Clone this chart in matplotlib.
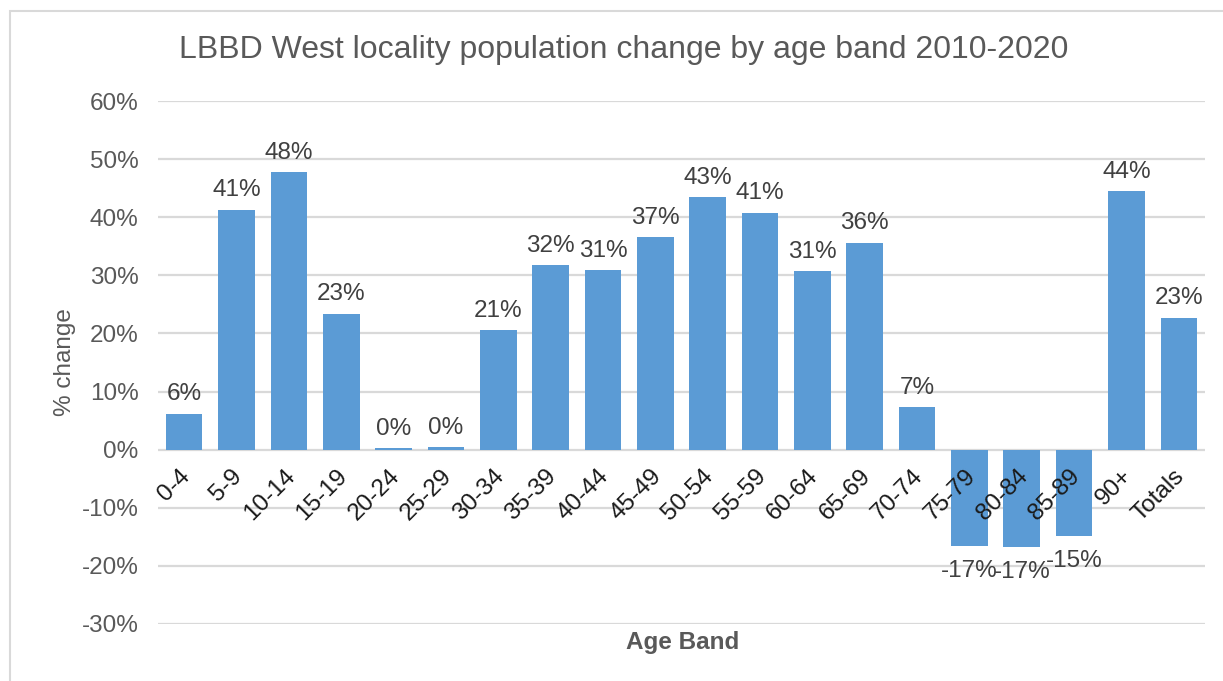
import matplotlib.pyplot as plt
from matplotlib.patches import Rectangle
from matplotlib.ticker import FuncFormatter

age_bands = ["0-4", "5-9", "10-14", "15-19", "20-24", "25-29", "30-34", "35-39",
             "40-44", "45-49", "50-54", "55-59", "60-64", "65-69", "70-74",
             "75-79", "80-84", "85-89", "90+", "Totals"]
pct_change = [6.2, 41.3, 47.8, 23.4, 0.3, 0.4, 20.6, 31.8, 30.9, 36.6,
              43.4, 40.8, 30.7, 35.6, 7.3, -16.6, -16.7, -14.9, 44.5, 22.7]
y_ticks = [-30, -20, -10, 0, 10, 20, 30, 40, 50, 60]

BAR = "#5B9BD5"
GRID = "#D9D9D9"
TEXT = "#595959"
LABEL = "#404040"
FS = 17.5

plt.rcParams["font.family"] = ["Liberation Sans", "DejaVu Sans"]

fig = plt.figure(figsize=(12.23, 6.81), dpi=100)
ax = fig.add_axes([158 / 1223, 1 - 624 / 681, 1047 / 1223, 523 / 681])

x = list(range(len(age_bands)))
ax.bar(x, pct_change, width=0.7, color=BAR, zorder=3)

ax.set_xlim(-0.5, len(age_bands) - 0.5)
ax.set_ylim(-30, 60)
ax.set_yticks(y_ticks)
ax.yaxis.set_major_formatter(FuncFormatter(lambda v, _: f"{v:.0f}%"))
ax.tick_params(axis="y", length=0, pad=14, labelsize=FS, labelcolor=TEXT)
ax.set_xticks([])
ax.grid(axis="y", color=GRID, linewidth=1.6, zorder=0)
for s in ax.spines.values():
    s.set_visible(False)

# category labels sit just under the zero line
for i, lab in enumerate(age_bands):
    ax.text(i - 0.1, -2.6, lab, rotation=45, ha="right", va="top",
            rotation_mode="anchor", fontsize=FS, color="#1a1a1a")

# data labels
for i, v in enumerate(pct_change):
    if v >= 0:
        ax.annotate(f"{v:.0f}%", (i, v), xytext=(0, 6), textcoords="offset points",
                    ha="center", va="bottom", fontsize=FS, color=LABEL)
    else:
        ax.annotate(f"{v:.0f}%", (i, v), xytext=(0, -10), textcoords="offset points",
                    ha="center", va="top", fontsize=FS, color=LABEL)

ax.set_ylabel("% change", fontsize=FS, color=TEXT)
ax.yaxis.set_label_coords((76 - 158) / 1047, 0.5)
fig.text(683 / 1223, 1 - 643 / 681, "Age Band", ha="center", va="center",
         fontsize=FS, fontweight="bold", color=TEXT)
fig.text(624 / 1223, 1 - 50 / 681, "LBBD West locality population change by age band 2010-2020",
         ha="center", va="center", fontsize=23, color=TEXT)

fig.patches.append(Rectangle((10 / 1223, -0.1), 1.0, 1 - 11 / 681 + 0.1,
                             transform=fig.transFigure, fill=False,
                             edgecolor=GRID, linewidth=1.5))

fig.savefig("out.png", dpi=100)
